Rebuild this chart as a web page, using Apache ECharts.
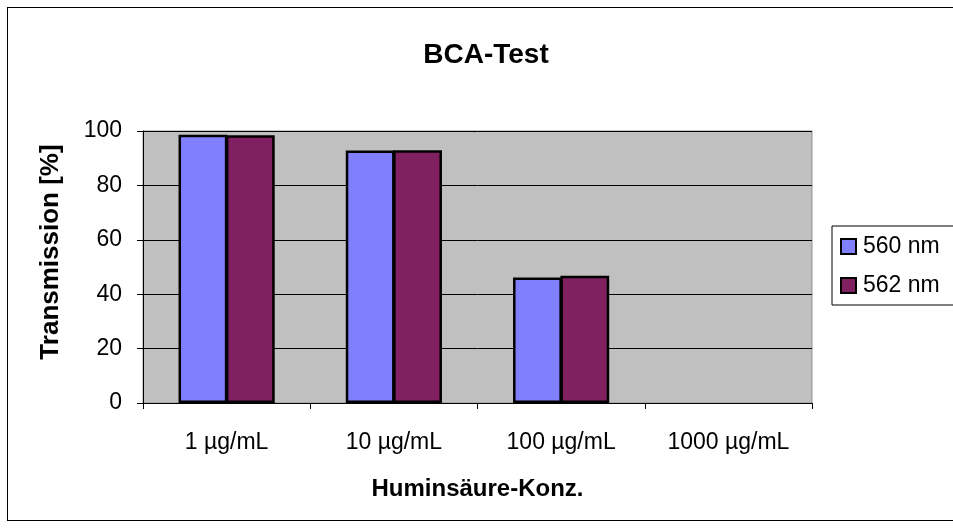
<!DOCTYPE html>
<html>
<head>
<meta charset="utf-8">
<script src="https://cdn.jsdelivr.net/npm/echarts@6/dist/echarts.min.js"></script>
<style>
html,body{margin:0;padding:0;background:#fff;overflow:hidden;}
#frame{position:absolute;left:7px;top:7px;width:960px;height:514px;border:1px solid #000;box-sizing:border-box;}
#chart{position:absolute;left:0;top:0;width:953px;height:529px;}
</style>
</head>
<body>
<div id="frame"></div>
<div id="chart"></div>
<script>
// BCA assay: transmission by humic acid concentration
const categories = ['1 µg/mL', '10 µg/mL', '100 µg/mL', '1000 µg/mL'];
const values560 = [98.6, 92.8, 46.1, null];
const values562 = [98.4, 92.9, 46.8, null];
const yTicks = [0, 20, 40, 60, 80, 100];

const chart = echarts.init(document.getElementById('chart'));
const font = 'Arial, "Liberation Sans", sans-serif';
chart.setOption({
  animation: false,
  title: {
    text: 'BCA-Test',
    left: 481, top: 36, textAlign: 'center',
    textStyle: {fontFamily: font, fontSize: 28, fontWeight: 'bold', color: '#000'}
  },
  legend: {
    orient: 'vertical',
    left: 832, top: 226,
    padding: [9, 20, 8, 8],
    itemGap: 16,
    itemWidth: 15, itemHeight: 15,
    borderColor: '#000', borderWidth: 1,
    backgroundColor: '#fff',
    textStyle: {fontFamily: font, fontSize: 23, lineHeight: 23, color: '#000', padding: [0, 0, 0, 2]},
    data: [
      {name: '560 nm', icon: 'rect', itemStyle: {borderColor: '#000', borderWidth: 2}},
      {name: '562 nm', icon: 'rect', itemStyle: {borderColor: '#000', borderWidth: 2}}
    ]
  },
  grid: {
    left: 143, top: 131, width: 669, height: 272,
    show: true, backgroundColor: '#C0C0C0', borderColor: '#909090', borderWidth: 1
  },
  xAxis: {
    type: 'category',
    data: categories,
    name: 'Huminsäure-Konz.',
    nameLocation: 'middle',
    nameGap: 74,
    nameTextStyle: {fontFamily: font, fontSize: 24, fontWeight: 'bold', color: '#000'},
    axisLine: {lineStyle: {color: '#000', width: 1}},
    axisTick: {show: true, length: 6, lineStyle: {color: '#000'}},
    axisLabel: {fontFamily: font, fontSize: 23, color: '#000', margin: 28}
  },
  yAxis: {
    type: 'value',
    min: yTicks[0], max: yTicks[yTicks.length - 1], interval: 20,
    name: 'Transmission [%]',
    nameLocation: 'middle',
    nameGap: 79,
    nameTextStyle: {fontFamily: font, fontSize: 26, fontWeight: 'bold', color: '#000', padding: [0, 0, 0, 30]},
    axisLine: {show: true, lineStyle: {color: '#000', width: 1}},
    axisTick: {show: true, length: 6, lineStyle: {color: '#000'}},
    axisLabel: {fontFamily: font, fontSize: 23, color: '#000', margin: 21},
    splitLine: {show: true, lineStyle: {color: '#000', width: 1}}
  },
  series: [
    {
      name: '560 nm', type: 'bar', data: values560,
      barGap: '-3%', barCategoryGap: '42.5%',
      itemStyle: {color: '#8080FF', borderColor: '#000', borderWidth: 2.5}
    },
    {
      name: '562 nm', type: 'bar', data: values562,
      barGap: '-3%', barCategoryGap: '42.5%',
      itemStyle: {color: '#802060', borderColor: '#000', borderWidth: 2.5}
    }
  ]
});
</script>
</body>
</html>
